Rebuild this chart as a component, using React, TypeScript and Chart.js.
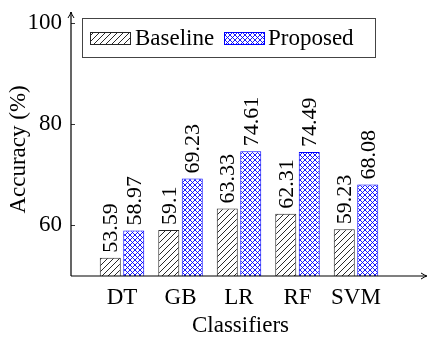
import React, { useEffect, useRef } from 'react';
import { Chart, registerables } from 'chart.js';

Chart.register(...registerables);

const categories = ['DT', 'GB', 'LR', 'RF', 'SVM'];
const baselineValues = [53.59, 59.1, 63.33, 62.31, 59.23];
const proposedValues = [58.97, 69.23, 74.61, 74.49, 68.08];
const seriesLabels = ['Baseline', 'Proposed'];
const yTickValues = [60, 80, 100];
const yRange = [50, 100];
const xTitle = 'Classifiers';
const yTitle = 'Accuracy (%)';

const FONT = "'Liberation Serif', Tinos, 'Times New Roman', serif";
const FS = 23;
const FS_VAL = 22;
const BLUE = '#0000ff';
const DARK = '#262626';

function makeHatch(): CanvasPattern {
  const s = 6;
  const c = document.createElement('canvas');
  c.width = s; c.height = s;
  const g = c.getContext('2d')!;
  g.fillStyle = '#ffffff';
  g.fillRect(0, 0, s, s);
  g.strokeStyle = '#111111';
  g.lineWidth = 0.9;
  g.beginPath();
  for (const o of [-s, 0, s]) {
    g.moveTo(o, s);
    g.lineTo(o + s, 0);
  }
  g.stroke();
  return g.createPattern(c, 'repeat')!;
}

function makeCross(): CanvasPattern {
  const s = 5;
  const c = document.createElement('canvas');
  c.width = s; c.height = s;
  const g = c.getContext('2d')!;
  g.fillStyle = '#ffffff';
  g.fillRect(0, 0, s, s);
  g.strokeStyle = BLUE;
  g.lineWidth = 0.9;
  g.beginPath();
  for (const o of [-s, 0, s]) {
    g.moveTo(o, s);
    g.lineTo(o + s, 0);
    g.moveTo(o, 0);
    g.lineTo(o + s, s);
  }
  g.stroke();
  return g.createPattern(c, 'repeat')!;
}

export default function App() {
  const ref = useRef<HTMLCanvasElement>(null);

  useEffect(() => {
    const canvas = ref.current!;
    const hatch = makeHatch();
    const cross = makeCross();

    const overlay = {
      id: 'overlay',
      afterDraw(chart: any) {
        const ctx = chart.ctx as CanvasRenderingContext2D;
        const a = chart.chartArea;
        const ys = chart.scales.y;
        ctx.save();
        // axes
        ctx.strokeStyle = '#000';
        ctx.fillStyle = '#000';
        ctx.lineWidth = 1.2;
        ctx.beginPath();
        ctx.moveTo(a.left, a.bottom);
        ctx.lineTo(a.left, 12);
        ctx.moveTo(a.left, a.bottom);
        ctx.lineTo(426, a.bottom);
        ctx.stroke();
        // arrow heads
        ctx.lineWidth = 1;
        ctx.beginPath();
        ctx.moveTo(a.left - 3, 18);
        ctx.quadraticCurveTo(a.left - 0.5, 14, a.left, 12);
        ctx.quadraticCurveTo(a.left + 0.5, 14, a.left + 3, 18);
        ctx.moveTo(421, a.bottom - 3);
        ctx.quadraticCurveTo(425, a.bottom - 0.5, 427, a.bottom);
        ctx.quadraticCurveTo(425, a.bottom + 0.5, 421, a.bottom + 3);
        ctx.stroke();
        // y ticks inside
        ctx.lineWidth = 0.8;
        ctx.beginPath();
        for (const v of yTickValues) {
          const p = Math.round(ys.getPixelForValue(v)) + 0.5;
          ctx.moveTo(a.left, p);
          ctx.lineTo(a.left + 4, p);
        }
        ctx.stroke();

        // value labels
        ctx.font = `${FS_VAL}px ${FONT}`;
        ctx.fillStyle = '#000';
        ctx.textAlign = 'left';
        ctx.textBaseline = 'middle';
        chart.data.datasets.forEach((ds: any, di: number) => {
          const meta = chart.getDatasetMeta(di);
          meta.data.forEach((el: any, i: number) => {
            const v = ds.data[i].y;
            ctx.save();
            ctx.translate(el.x + 1, el.y - 5);
            ctx.rotate(-Math.PI / 2);
            ctx.fillText(String(v), 0, 0);
            ctx.restore();
          });
        });

        // legend
        const bx = 82.5, by = 18.5, bw = 293, bh = 39;
        ctx.fillStyle = '#fff';
        ctx.fillRect(bx, by, bw, bh);
        ctx.strokeStyle = '#444';
        ctx.lineWidth = 1;
        ctx.strokeRect(bx, by, bw, bh);
        const items = [
          { sx: 90.5, tx: 135, fill: hatch, border: DARK },
          { sx: 224.5, tx: 268, fill: cross, border: BLUE },
        ];
        items.forEach((it, k) => {
          ctx.fillStyle = it.fill;
          ctx.fillRect(it.sx, 32.5, 40, 12);
          ctx.strokeStyle = it.border;
          ctx.lineWidth = 1;
          ctx.strokeRect(it.sx, 32.5, 40, 12);
          ctx.fillStyle = '#000';
          ctx.font = `${FS}px ${FONT}`;
          ctx.textBaseline = 'alphabetic';
          ctx.textAlign = 'left';
          ctx.fillText(chart.data.datasets[k].label, it.tx, 45);
        });
        ctx.restore();
      },
    };

    const chart = new Chart(canvas, {
      type: 'bar',
      data: {
        datasets: [
          {
            label: seriesLabels[0],
            data: baselineValues.map((y, i) => ({ x: i, y })),
            backgroundColor: hatch,
            borderColor: DARK,
            borderWidth: 1,
            borderSkipped: false,
            categoryPercentage: 0.803,
            barPercentage: 0.894,
          },
          {
            label: seriesLabels[1],
            data: proposedValues.map((y, i) => ({ x: i, y })),
            backgroundColor: cross,
            borderColor: BLUE,
            borderWidth: 1,
            borderSkipped: false,
            categoryPercentage: 0.803,
            barPercentage: 0.894,
          },
        ] as any,
      },
      options: {
        animation: false,
        responsive: false,
        devicePixelRatio: 1,
        layout: { padding: { top: 16, right: 18, left: 0, bottom: 0 } },
        plugins: { legend: { display: false }, tooltip: { enabled: false } },
        scales: {
          x: {
            type: 'linear',
            offset: false,
            min: -0.872,
            max: 4.923,
            grid: { display: false, drawTicks: false, offset: false },
            border: { display: false },
            afterBuildTicks: (s: any) => {
              s.ticks = categories.map((_, i) => ({ value: i }));
            },
            afterFit: (s: any) => {
              s.height = 61;
            },
            ticks: {
              autoSkip: false,
              maxRotation: 0,
              padding: 8,
              color: '#000',
              font: { family: FONT, size: FS },
              callback: (v: any) => categories[v] ?? '',
            },
            title: {
              display: true,
              text: xTitle,
              color: '#000',
              font: { family: FONT, size: FS },
              padding: { top: 0, bottom: -3 },
            },
          },
          y: {
            type: 'linear',
            min: yRange[0],
            max: yRange[1],
            grid: { display: false, drawTicks: false },
            border: { display: false },
            afterBuildTicks: (s: any) => {
              s.ticks = yTickValues.map((v) => ({ value: v }));
            },
            afterFit: (s: any) => {
              s.width = 71;
            },
            ticks: {
              padding: 9,
              color: '#000',
              font: { family: FONT, size: FS },
            },
            title: {
              display: true,
              text: yTitle,
              color: '#000',
              font: { family: FONT, size: FS },
              padding: { top: 5, bottom: 0 },
            },
          },
        },
      } as any,
      plugins: [overlay],
    });

    return () => chart.destroy();
  }, []);

  return (
    <div style={{ position: 'fixed', left: 0, top: 0, width: 428, height: 337, background: '#fff' }}>
      <canvas ref={ref} width={428} height={337} style={{ width: 428, height: 337, display: 'block' }} />
    </div>
  );
}
